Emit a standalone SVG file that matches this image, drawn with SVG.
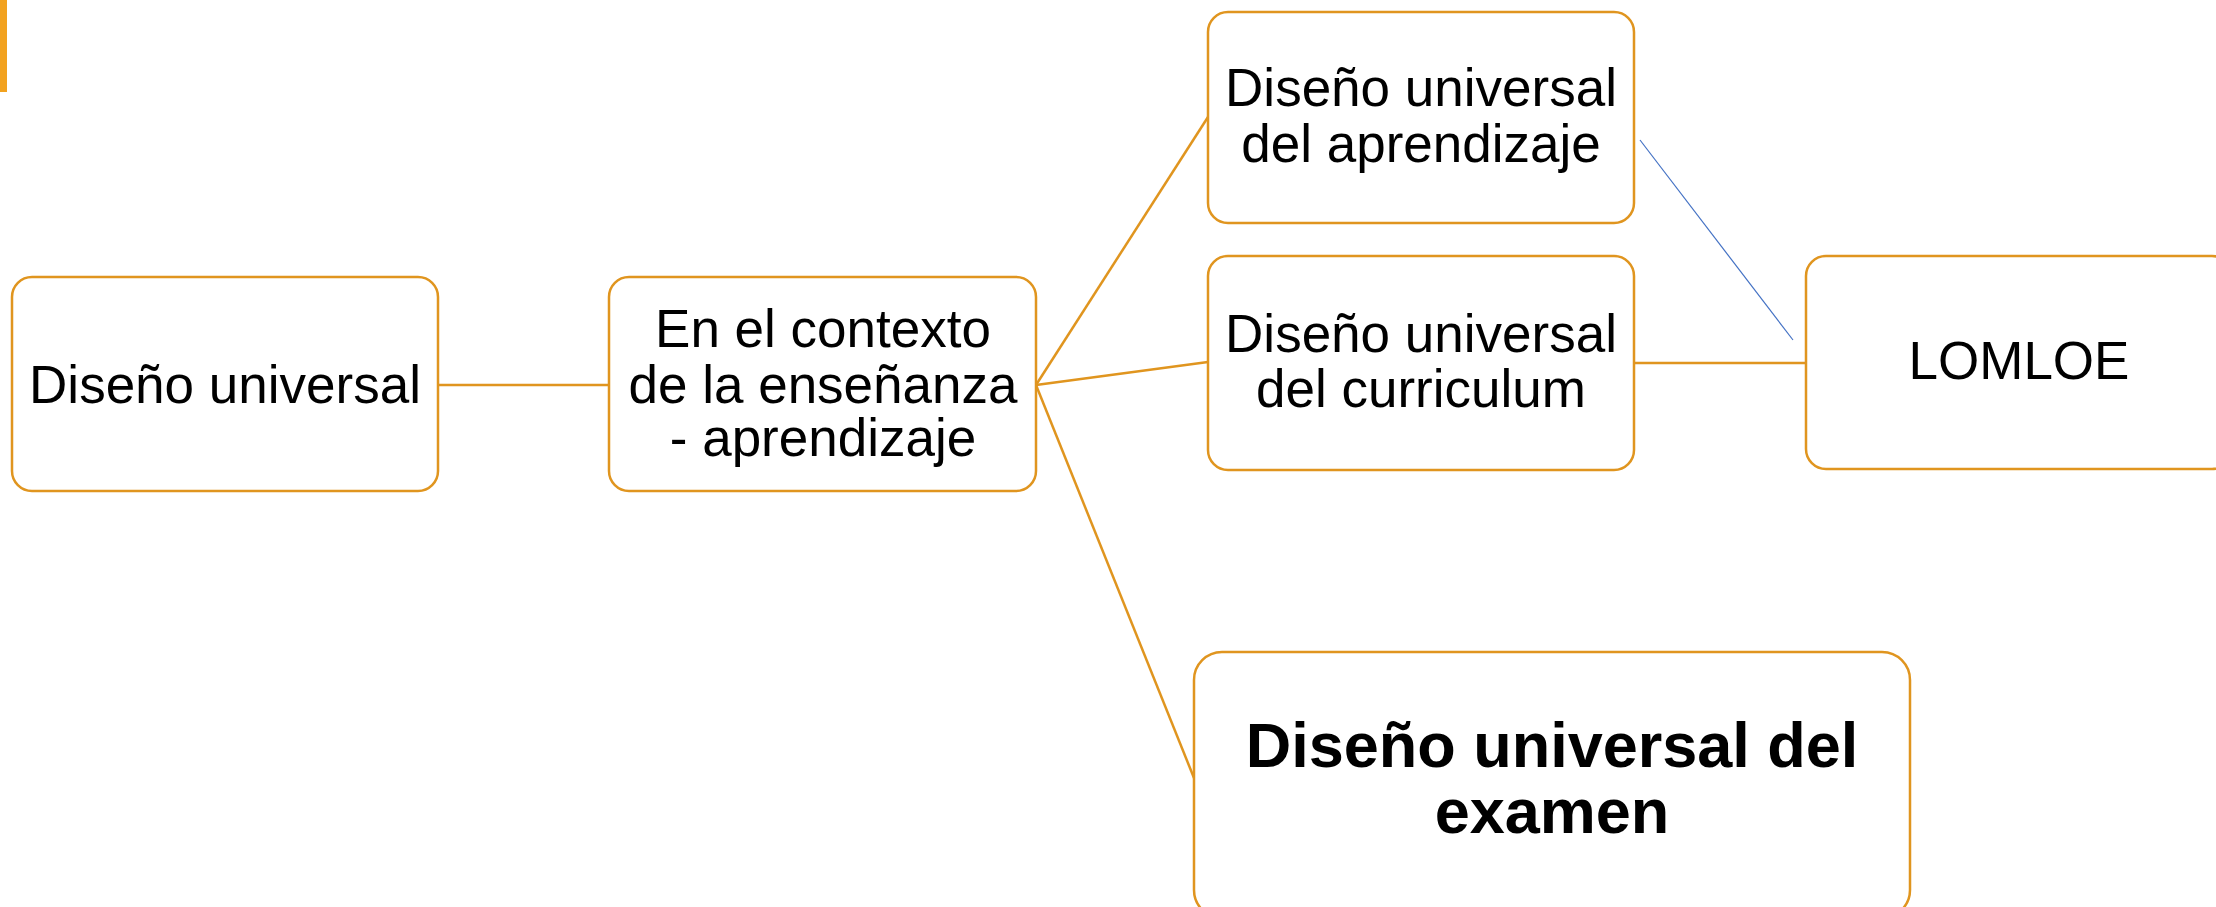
<svg xmlns="http://www.w3.org/2000/svg" width="2216" height="907" viewBox="0 0 2216 907">
<style>
.box{fill:#ffffff;stroke:#E0951F;stroke-width:2.5}
.con{stroke:#E0951F;stroke-width:2.5;fill:none}
.t{font-family:"Liberation Sans",Arial,sans-serif;font-size:53px;fill:#000;text-anchor:middle}
.tb{font-family:"Liberation Sans",Arial,sans-serif;font-size:63px;font-weight:bold;fill:#000;text-anchor:middle}
</style>
<rect x="0" y="0" width="2216" height="907" fill="#ffffff"/>
<rect x="0" y="0" width="7" height="92" fill="#F2A21F"/>
<g id="connectors">
<line class="con" x1="438" y1="385" x2="609" y2="385"/>
<line class="con" x1="1036" y1="385" x2="1208" y2="117"/>
<line class="con" x1="1036" y1="385" x2="1208" y2="362"/>
<line class="con" x1="1036" y1="385" x2="1194" y2="778"/>
<line class="con" x1="1634" y1="363" x2="1806" y2="363"/>
<line x1="1640" y1="140" x2="1793" y2="340" stroke="#4472C4" stroke-width="1.2"/>
</g>
<g id="node-disenio-universal">
<rect class="box" x="12" y="277" width="426" height="214" rx="20"/>
<text class="t" x="225" y="403">Diseño universal</text>
</g>
<g id="node-contexto">
<rect class="box" x="609" y="277" width="427" height="214" rx="20"/>
<text class="t" x="823" y="347">En el contexto</text>
<text class="t" x="823" y="403">de la enseñanza</text>
<text class="t" x="823" y="456">- aprendizaje</text>
</g>
<g id="node-aprendizaje">
<rect class="box" x="1208" y="12" width="426" height="211" rx="20"/>
<text class="t" x="1421" y="106">Diseño universal</text>
<text class="t" x="1421" y="162">del aprendizaje</text>
</g>
<g id="node-curriculum">
<rect class="box" x="1208" y="256" width="426" height="214" rx="20"/>
<text class="t" x="1421" y="352">Diseño universal</text>
<text class="t" x="1421" y="407">del curriculum</text>
</g>
<g id="node-lomloe">
<rect class="box" x="1806" y="256" width="426" height="213" rx="20"/>
<text class="t" x="2019" y="379">LOMLOE</text>
</g>
<g id="node-examen">
<rect class="box" x="1194" y="652" width="716" height="266" rx="28"/>
<text class="tb" x="1552" y="767">Diseño universal del</text>
<text class="tb" x="1552" y="833">examen</text>
</g>
</svg>
